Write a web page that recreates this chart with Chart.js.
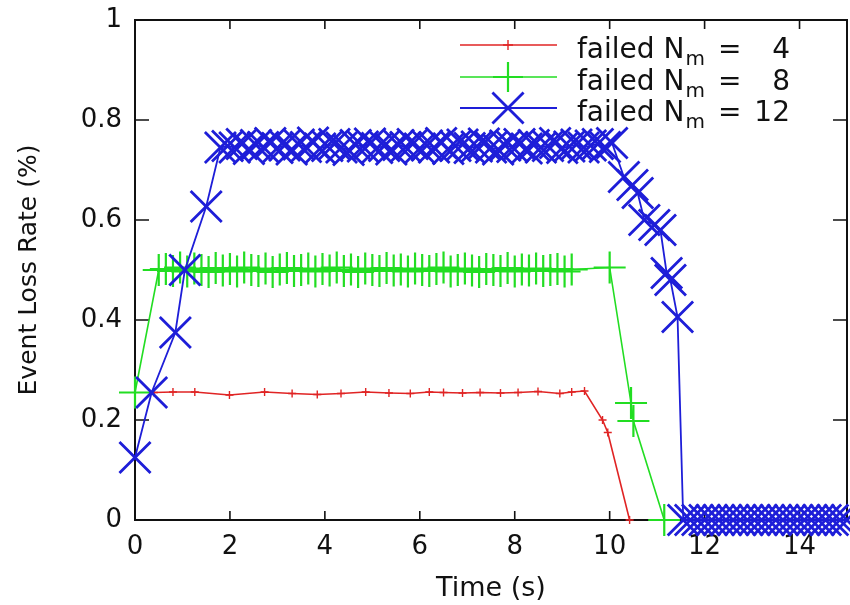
<!DOCTYPE html>
<html><head><meta charset="utf-8">
<script src="https://cdn.jsdelivr.net/npm/chart.js@4.4.0/dist/chart.umd.min.js"></script>
<style>html,body{margin:0;padding:0;background:#fff;overflow:hidden}#c{display:block}</style>
</head><body>
<canvas id="c" width="850" height="605"></canvas>
<script>
// ---- text / ticks ----
const xTickValues = [0, 2, 4, 6, 8, 10, 12, 14];
const xTickLabels = ['0', '2', '4', '6', '8', '10', '12', '14'];
const yTickValues = [0, 0.2, 0.4, 0.6, 0.8, 1];
const yTickLabels = ['0', '0.2', '0.4', '0.6', '0.8', '1'];
const xTitle = 'Time (s)';
const yTitle = 'Event Loss Rate (%)';
const legendPrefix = 'failed N';
const legendSub = 'm';
const failedNm = [4, 8, 12];

// ---- series: failed Nm = 4 ----
const timeN4 = [0.4, 0.8, 1.26, 1.99, 2.73, 3.31, 3.84, 4.34, 4.86, 5.35, 5.8, 6.2, 6.5, 6.9, 7.27, 7.7, 8.07, 8.49, 8.95, 9.2, 9.47, 9.85, 9.96, 10.42];
const lossN4 = [0.255, 0.256, 0.256, 0.25, 0.256, 0.253, 0.251, 0.253, 0.256, 0.254, 0.253, 0.256, 0.255, 0.254, 0.255, 0.254, 0.255, 0.257, 0.253, 0.256, 0.258, 0.2, 0.175, 0];

// ---- series: failed Nm = 8 ----
const timeN8 = [0, 0.5,
  0.65, 0.8, 0.95, 1.1, 1.25, 1.4, 1.55, 1.7, 1.85, 2.0,
  2.15, 2.3, 2.45, 2.6, 2.75, 2.9, 3.05, 3.2, 3.35, 3.5,
  3.65, 3.8, 3.95, 4.1, 4.25, 4.4, 4.55, 4.7, 4.85, 5.0,
  5.15, 5.3, 5.45, 5.6, 5.75, 5.9, 6.05, 6.2, 6.35, 6.5,
  6.65, 6.8, 6.95, 7.1, 7.25, 7.4, 7.55, 7.7, 7.85, 8.0,
  8.15, 8.3, 8.45, 8.6, 8.75, 8.9, 9.05, 9.2,
  10.0, 10.45, 10.5, 11.15];
const lossN8 = [0.255, 0.5,
  0.502, 0.498, 0.505, 0.497, 0.503, 0.5, 0.496, 0.504, 0.499, 0.502,
  0.497, 0.505, 0.5, 0.498, 0.503, 0.496, 0.501, 0.504, 0.498, 0.5,
  0.503, 0.497, 0.502, 0.499, 0.505, 0.498, 0.501, 0.496, 0.503, 0.5,
  0.498, 0.504, 0.499, 0.501, 0.497, 0.503, 0.5, 0.498, 0.502, 0.505,
  0.497, 0.5, 0.503, 0.499, 0.496, 0.502, 0.5, 0.498, 0.504, 0.497,
  0.501, 0.499, 0.503, 0.498, 0.5, 0.502, 0.497, 0.501,
  0.505, 0.234, 0.198, 0];

// ---- series: failed Nm = 12 ----
const timeN12 = [0, 0.35, 0.85, 1.05, 1.5, 1.8,
  1.95, 2.1, 2.25, 2.4, 2.55, 2.7, 2.85, 3.0, 3.15, 3.3,
  3.45, 3.6, 3.75, 3.9, 4.05, 4.2, 4.35, 4.5, 4.65, 4.8,
  4.95, 5.1, 5.25, 5.4, 5.55, 5.7, 5.85, 6.0, 6.15, 6.3,
  6.45, 6.6, 6.75, 6.9, 7.05, 7.2, 7.35, 7.5, 7.65, 7.8,
  7.95, 8.1, 8.25, 8.4, 8.55, 8.7, 8.85, 9.0, 9.15, 9.3,
  9.45, 9.6, 9.75, 9.9, 10.05,
  10.3, 10.48, 10.59, 10.73, 10.94, 11.07, 11.2, 11.28, 11.43, 11.55,
  11.7, 11.85, 12.0, 12.15, 12.3, 12.45, 12.6, 12.75, 12.9, 13.05,
  13.2, 13.35, 13.5, 13.65, 13.8, 13.95, 14.1, 14.25, 14.4, 14.55,
  14.7, 14.85, 15.0];
const lossN12 = [0.125, 0.255, 0.375, 0.5, 0.627, 0.745,
  0.748, 0.745, 0.752, 0.742, 0.75, 0.746, 0.754, 0.744, 0.749, 0.741,
  0.751, 0.746, 0.755, 0.743, 0.748, 0.752, 0.745, 0.74, 0.75, 0.747,
  0.753, 0.744, 0.748, 0.741, 0.75, 0.746, 0.752, 0.743, 0.749, 0.745,
  0.754, 0.742, 0.748, 0.751, 0.744, 0.747, 0.753, 0.745, 0.741, 0.749,
  0.746, 0.752, 0.743, 0.75, 0.745, 0.748, 0.754, 0.744, 0.747, 0.751,
  0.745, 0.749, 0.752, 0.746, 0.754,
  0.686, 0.67, 0.654, 0.6, 0.59, 0.58, 0.494, 0.48, 0.406, 0,
  0, 0, 0, 0, 0, 0, 0, 0, 0, 0,
  0, 0, 0, 0, 0, 0, 0, 0, 0, 0,
  0, 0, 0];

const FONT = "'DejaVu Sans', sans-serif";
const RED = '#e02424', GREEN = '#22dd22', BLUE = '#1e1ed8';

function pts(t, v) { return t.map((x, i) => ({ x: x, y: v[i] })); }

const bgPlugin = {
  id: 'bg',
  beforeDraw(chart) {
    const c = chart.ctx;
    c.save(); c.fillStyle = '#fff'; c.fillRect(0, 0, chart.width, chart.height); c.restore();
  }
};

const framePlugin = {
  id: 'frame',
  beforeDatasetsDraw(chart) {
    const { ctx, chartArea: a, scales } = chart;
    ctx.save();
    ctx.strokeStyle = '#111';
    ctx.lineWidth = 2;
    ctx.strokeRect(a.left, a.top, a.right - a.left, a.bottom - a.top);
    ctx.lineWidth = 1.6;
    ctx.beginPath();
    xTickValues.forEach(v => {
      const px = scales.x.getPixelForValue(v);
      ctx.moveTo(px, a.bottom); ctx.lineTo(px, a.bottom - 9);
      ctx.moveTo(px, a.top); ctx.lineTo(px, a.top + 9);
    });
    yTickValues.forEach(v => {
      const py = scales.y.getPixelForValue(v);
      ctx.moveTo(a.left, py); ctx.lineTo(a.left + 14, py);
      ctx.moveTo(a.right, py); ctx.lineTo(a.right - 14, py);
    });
    ctx.stroke();
    ctx.restore();
  }
};

function marker(ctx, style, x, y, r) {
  ctx.beginPath();
  if (style === 'crossRot') {
    const d = r * Math.SQRT1_2;
    ctx.moveTo(x - d, y - d); ctx.lineTo(x + d, y + d);
    ctx.moveTo(x + d, y - d); ctx.lineTo(x - d, y + d);
  } else {
    ctx.moveTo(x - r, y); ctx.lineTo(x + r, y);
    ctx.moveTo(x, y - r); ctx.lineTo(x, y + r);
  }
  ctx.stroke();
}

const legendPlugin = {
  id: 'customLegend',
  afterDraw(chart) {
    const ctx = chart.ctx;
    const rows = [45, 77, 108];
    ctx.save();
    chart.data.datasets.forEach((ds, i) => {
      const y = rows[i];
      ctx.strokeStyle = ds.borderColor;
      ctx.lineWidth = ds.borderWidth;
      ctx.beginPath(); ctx.moveTo(460, y); ctx.lineTo(557, y); ctx.stroke();
      ctx.lineWidth = ds.pointBorderWidth;
      marker(ctx, ds.pointStyle, 508, y, ds.legendMarkerRadius);
      ctx.fillStyle = '#111';
      ctx.textBaseline = 'alphabetic';
      ctx.textAlign = 'left';
      ctx.font = '28px ' + FONT;
      ctx.fillText(legendPrefix, 577, y + 13);
      const w = ctx.measureText(legendPrefix).width;
      ctx.font = '20px ' + FONT;
      ctx.fillText(legendSub, 577 + w + 1, y + 20);
      const ws = ctx.measureText(legendSub).width;
      ctx.font = '28px ' + FONT;
      ctx.fillText('=', 577 + w + 1 + ws + 13, y + 13);
      ctx.textAlign = 'right';
      ctx.fillText(String(failedNm[i]), 790, y + 13);
    });
    ctx.restore();
  }
};

new Chart(document.getElementById('c').getContext('2d'), {
  type: 'line',
  data: {
    datasets: [
      { label: 'failed Nm = ' + failedNm[0], data: pts(timeN4, lossN4), borderColor: RED, backgroundColor: RED,
        borderWidth: 1.6, pointStyle: 'cross', pointRadius: 4, pointBorderWidth: 1.4, pointBorderColor: RED,
        legendMarkerRadius: 5, fill: false, tension: 0, clip: false, order: 3 },
      { label: 'failed Nm = ' + failedNm[1], data: pts(timeN8, lossN8), borderColor: GREEN, backgroundColor: GREEN,
        borderWidth: 1.6, pointStyle: 'cross', pointRadius: 16, pointBorderWidth: 2.2, pointBorderColor: GREEN,
        legendMarkerRadius: 15, fill: false, tension: 0, clip: false, order: 2 },
      { label: 'failed Nm = ' + failedNm[2], data: pts(timeN12, lossN12), borderColor: BLUE, backgroundColor: BLUE,
        borderWidth: 1.8, pointStyle: 'crossRot', pointRadius: 22, pointBorderWidth: 2.8, pointBorderColor: BLUE,
        legendMarkerRadius: 22, fill: false, tension: 0, clip: false, order: 1 }
    ]
  },
  options: {
    responsive: false,
    animation: false,
    devicePixelRatio: 1,
    layout: { autoPadding: false, padding: { top: 20, right: 3, left: 0, bottom: 0 } },
    plugins: { legend: { display: false }, tooltip: { enabled: false } },
    elements: { point: { hoverRadius: 0 } },
    scales: {
      x: {
        type: 'linear', min: 0, max: 15,
        afterBuildTicks: s => { s.ticks = xTickValues.map(v => ({ value: v })); },
        afterFit: s => { s.height = 85; s.paddingLeft = 0; s.paddingRight = 0; s.paddingTop = 0; s.paddingBottom = 0; },
        grid: { display: false, drawTicks: false },
        border: { display: false },
        ticks: { font: { family: FONT, size: 26 }, color: '#111', padding: 12, maxRotation: 0, autoSkip: false,
          callback: (v, i) => xTickLabels[i] },
        title: { display: true, text: xTitle, font: { family: FONT, size: 27 }, color: '#111', padding: { top: 0, bottom: 0 } }
      },
      y: {
        type: 'linear', min: 0, max: 1,
        afterBuildTicks: s => { s.ticks = yTickValues.map(v => ({ value: v })); },
        afterFit: s => { s.width = 135; s.paddingLeft = 0; s.paddingRight = 0; s.paddingTop = 0; s.paddingBottom = 0; },
        grid: { display: false, drawTicks: false },
        border: { display: false },
        ticks: { font: { family: FONT, size: 26 }, color: '#111', padding: 13, autoSkip: false,
          callback: (v, i) => yTickLabels[i] },
        title: { display: true, text: yTitle, font: { family: FONT, size: 25 }, color: '#111', padding: { top: 14, bottom: 0 } }
      }
    }
  },
  plugins: [bgPlugin, framePlugin, legendPlugin]
});
</script>
</body></html>
